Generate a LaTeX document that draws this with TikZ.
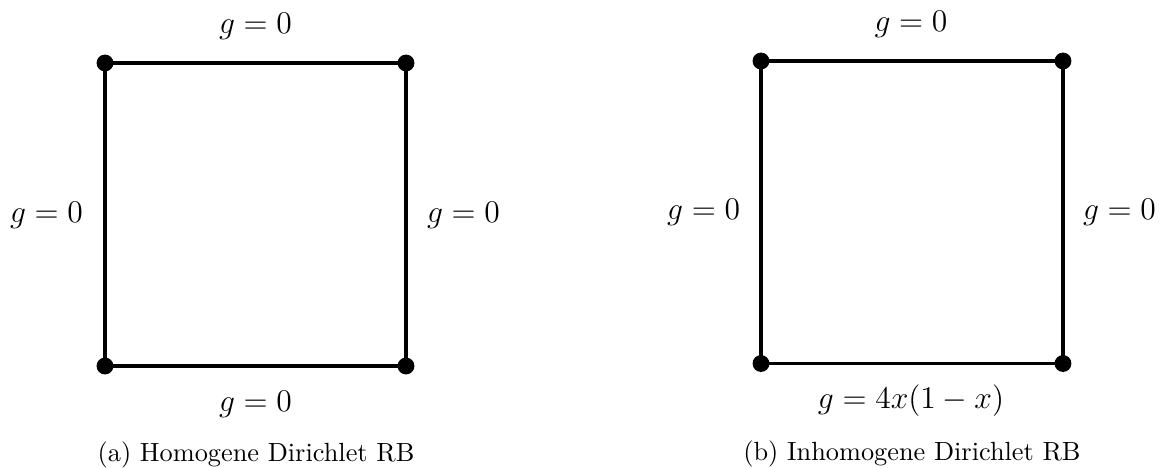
\documentclass[tikz,border=0pt]{standalone}
\begin{document}
\begin{tikzpicture}[x=0.3802pt,y=-0.3802pt,
  edge/.style={line width=1.2pt},
  corner/.style={circle,fill=black,inner sep=0pt,minimum size=6.4pt},
  lbl/.style={anchor=base,inner sep=0pt,font=\large},
  captext/.style={anchor=base,inner sep=0pt,font=\normalsize}]
\useasboundingbox (0,0) rectangle (1162,468);
% left square
\coordinate (a1) at (105,63);
\coordinate (a2) at (406,63);
\coordinate (a3) at (406,366);
\coordinate (a4) at (105,366);
\draw[edge] (a1) -- (a2) -- (a3) -- (a4) -- cycle;
\foreach \c in {a1,a2,a3,a4} \node[corner] at (\c) {};
\node[lbl] (at) at (255.5,33) {$g=0$};
\node[lbl] (al) at (46.5,222.7) {$g=0$};
\node[lbl] (ar) at (463.5,222.7) {$g=0$};
\node[lbl] (ab) at (255.5,411) {$g=0$};
\node[captext] (ac) at (256,461.5) {(a) Homogene Dirichlet RB};
% right square
\coordinate (b1) at (761,61);
\coordinate (b2) at (1063,61);
\coordinate (b3) at (1063,363.5);
\coordinate (b4) at (761,363.5);
\draw[edge] (b1) -- (b2) -- (b3) -- (b4) -- cycle;
\foreach \c in {b1,b2,b3,b4} \node[corner] at (\c) {};
\node[lbl] (bt) at (911,31.7) {$g=0$};
\node[lbl] (bl) at (703.7,220) {$g=0$};
\node[lbl] (br) at (1119.5,220) {$g=0$};
\node[lbl] (bb) at (911,408.3) {$g=4x(1-x)$};
\node[captext] (bc) at (912,460) {(b) Inhomogene Dirichlet RB};
\end{tikzpicture}
\end{document}
